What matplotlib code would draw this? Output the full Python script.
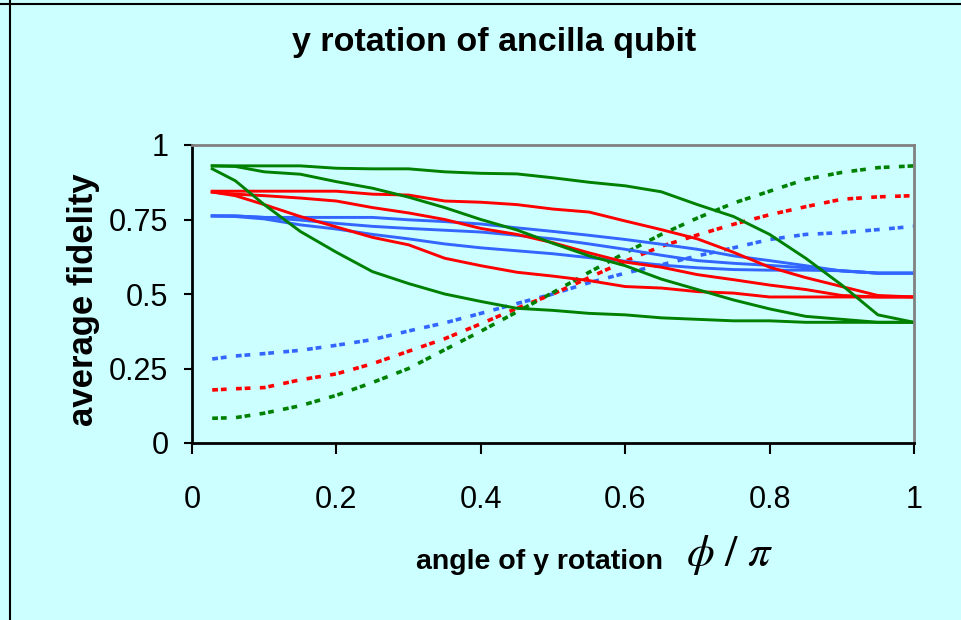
import matplotlib
matplotlib.use('Agg')
import matplotlib.pyplot as plt
from matplotlib.lines import Line2D

# angle phi/pi
x = [0.028, 0.06, 0.1, 0.15, 0.2, 0.25, 0.3, 0.35, 0.4, 0.45, 0.5,
     0.55, 0.6, 0.65, 0.7, 0.75, 0.8, 0.85, 0.9, 0.95, 1.0]

# green solid (decreasing)
green_1 = [0.93, 0.93, 0.93, 0.93, 0.922, 0.92, 0.92, 0.91, 0.905, 0.903, 0.89,
           0.875, 0.863, 0.843, 0.80, 0.76, 0.70, 0.62, 0.53, 0.43, 0.405]
green_2 = [0.93, 0.928, 0.91, 0.902, 0.877, 0.855, 0.825, 0.79, 0.75, 0.715, 0.67,
           0.628, 0.595, 0.55, 0.515, 0.48, 0.45, 0.425, 0.415, 0.405, 0.405]
green_3 = [0.92, 0.88, 0.80, 0.71, 0.64, 0.575, 0.535, 0.50, 0.475, 0.452, 0.445,
           0.435, 0.43, 0.42, 0.415, 0.41, 0.41, 0.405, 0.405, 0.405, 0.405]
# red solid
red_1 = [0.845, 0.845, 0.845, 0.845, 0.845, 0.835, 0.832, 0.812, 0.808, 0.80, 0.785,
         0.775, 0.745, 0.716, 0.685, 0.64, 0.59, 0.555, 0.525, 0.495, 0.49]
red_2 = [0.842, 0.835, 0.83, 0.822, 0.812, 0.79, 0.772, 0.75, 0.72, 0.70, 0.672,
         0.638, 0.607, 0.59, 0.565, 0.548, 0.53, 0.515, 0.495, 0.49, 0.49]
red_3 = [0.842, 0.83, 0.80, 0.76, 0.725, 0.69, 0.665, 0.62, 0.595, 0.573, 0.56,
         0.545, 0.525, 0.52, 0.508, 0.503, 0.49, 0.49, 0.49, 0.49, 0.49]
# blue solid
blue_1 = [0.762, 0.762, 0.757, 0.757, 0.757, 0.757, 0.749, 0.743, 0.735, 0.722, 0.71,
          0.697, 0.683, 0.667, 0.65, 0.628, 0.612, 0.595, 0.577, 0.57, 0.57]
blue_2 = [0.762, 0.762, 0.757, 0.748, 0.737, 0.727, 0.72, 0.714, 0.708, 0.697, 0.685,
          0.668, 0.65, 0.63, 0.612, 0.603, 0.596, 0.588, 0.578, 0.57, 0.57]
blue_3 = [0.762, 0.76, 0.752, 0.732, 0.718, 0.70, 0.685, 0.668, 0.655, 0.645, 0.635,
          0.622, 0.61, 0.597, 0.588, 0.582, 0.58, 0.58, 0.578, 0.57, 0.57]
# dotted (increasing)
green_dot = [0.083, 0.085, 0.10, 0.125, 0.16, 0.203, 0.25, 0.313, 0.375, 0.44, 0.505,
             0.573, 0.638, 0.70, 0.755, 0.805, 0.845, 0.885, 0.908, 0.924, 0.93]
red_dot = [0.178, 0.182, 0.186, 0.212, 0.232, 0.266, 0.308, 0.35, 0.40, 0.452, 0.50,
           0.555, 0.61, 0.66, 0.698, 0.734, 0.766, 0.793, 0.818, 0.826, 0.83]
blue_dot = [0.282, 0.292, 0.30, 0.311, 0.328, 0.347, 0.376, 0.403, 0.435, 0.468, 0.50,
            0.538, 0.57, 0.598, 0.628, 0.655, 0.683, 0.70, 0.706, 0.716, 0.727]

yticks = [0, 0.25, 0.5, 0.75, 1]
ytick_labels = ['0', '0.25', '0.5', '0.75', '1']
xticks = [0, 0.2, 0.4, 0.6, 0.8, 1]
xtick_labels = ['0', '0.2', '0.4', '0.6', '0.8', '1']

GREEN = '#008000'
RED = '#FF0000'
BLUE = '#3366FF'
BG = '#CCFFFF'

sans = ['Liberation Sans', 'DejaVu Sans']
plt.rcParams['mathtext.fontset'] = 'stix'

fig = plt.figure(figsize=(9.61, 6.20), dpi=100, facecolor=BG)
ax = fig.add_axes([192 / 961, 1 - 443 / 620, 722 / 961, 298 / 620])
ax.set_facecolor(BG)

for ys, c in [(blue_dot, BLUE), (red_dot, RED), (green_dot, GREEN)]:
    ax.plot(x, ys, color=c, lw=2.6, dashes=(1.6, 0.8, 1.6, 2.6), solid_capstyle='butt')

for ys, c in [(blue_1, BLUE), (blue_2, BLUE), (blue_3, BLUE),
              (red_1, RED), (red_2, RED), (red_3, RED),
              (green_1, GREEN), (green_2, GREEN), (green_3, GREEN)]:
    ax.plot(x, ys, color=c, lw=2.1)

ax.set_xlim(0, 1)
ax.set_ylim(0, 1)
ax.set_xticks(xticks)
ax.set_xticklabels(xtick_labels, family=sans, fontsize=22)
ax.set_yticks(yticks)
ax.set_yticklabels(ytick_labels, family=sans, fontsize=22)
ax.tick_params(axis='x', direction='out', length=8, width=1.5, pad=22)
ax.tick_params(axis='y', direction='out', length=6, width=1.5, pad=11)

for side in ['left', 'bottom']:
    ax.spines[side].set_color('black')
    ax.spines[side].set_linewidth(2)
for side in ['top', 'right']:
    ax.spines[side].set_color('#808080')
    ax.spines[side].set_linewidth(2)

fig.text(494 / 961, 1 - 51 / 620, 'y rotation of ancilla qubit', ha='center',
         va='baseline', fontsize=24.5, fontweight='bold', family=sans)
fig.text(84 / 961, 1 - 300 / 620, 'average fidelity', ha='center', va='center',
         rotation=90, fontsize=25, fontweight='bold', family=sans)
fig.text(416 / 961, 1 - 569 / 620, 'angle of y rotation', ha='left', va='baseline',
         fontsize=20.5, fontweight='bold', family=sans)
fig.text(686 / 961, 1 - 566 / 620, r'$\phi\ /\ \pi$', ha='left', va='baseline',
         fontsize=32)

# frame lines at the left and top edge
fig.add_artist(Line2D([10 / 961, 10 / 961], [0, 1], transform=fig.transFigure,
                      color='black', lw=1.5))
fig.add_artist(Line2D([0, 1], [1 - 4 / 620, 1 - 4 / 620], transform=fig.transFigure,
                      color='black', lw=1.5))

fig.savefig('out.png', dpi=100, facecolor=BG)
